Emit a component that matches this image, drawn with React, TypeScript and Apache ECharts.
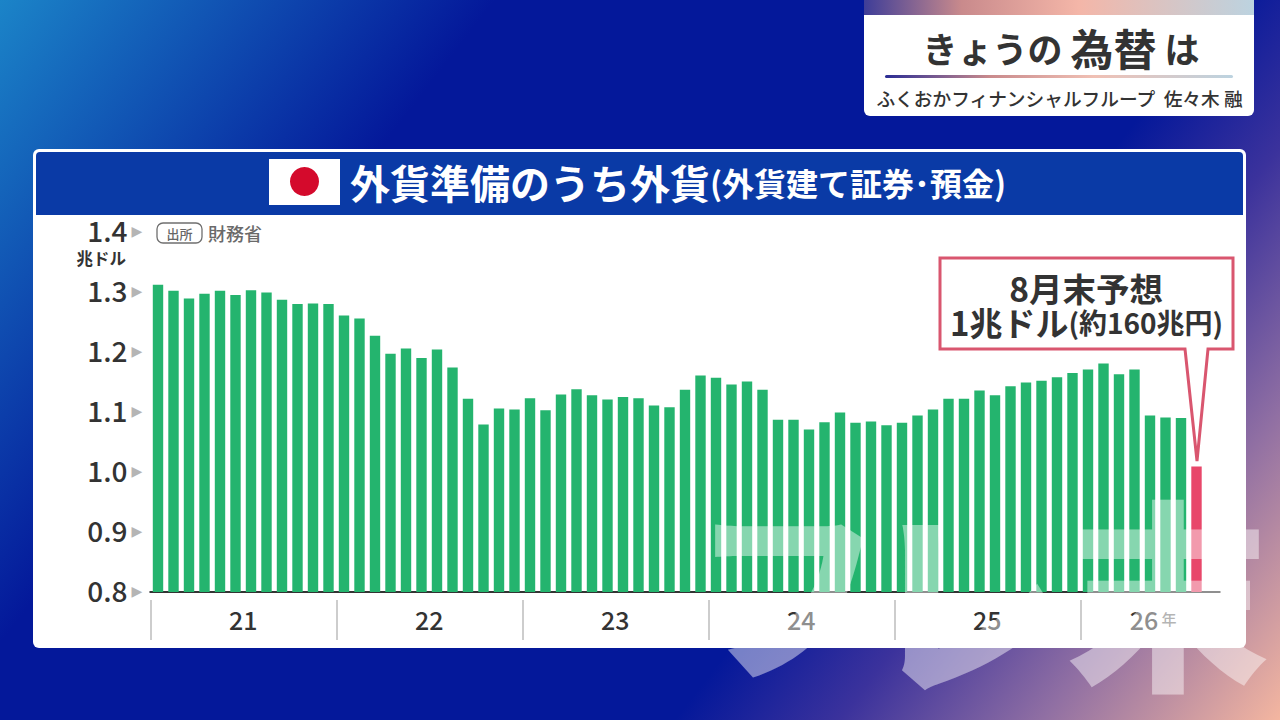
import React, { useEffect, useRef } from "react";
import * as echarts from "echarts";

const FONT = '"Noto Sans CJK JP", "Noto Sans", sans-serif';

const actualValues = [
  1.312, 1.302, 1.289, 1.297, 1.302, 1.295, 1.303, 1.299, 1.287, 1.28, 1.281, 1.28,
  1.261, 1.256, 1.227, 1.197, 1.206, 1.19, 1.204, 1.174, 1.122, 1.079, 1.106, 1.104,
  1.123, 1.103, 1.129, 1.138, 1.128, 1.121, 1.125, 1.123, 1.111, 1.108, 1.137, 1.161,
  1.157, 1.146, 1.151, 1.137, 1.087, 1.087, 1.071, 1.083, 1.099, 1.082, 1.084, 1.078,
  1.082, 1.094, 1.104, 1.122, 1.122, 1.136, 1.128, 1.143, 1.149, 1.152, 1.158, 1.165,
  1.171, 1.181, 1.163, 1.171, 1.094, 1.091, 1.09,
];
const forecastValue = 1.009;
const yearTickPositions = [0, 12, 24, 36, 48, 60];
const yearLabelPositions = [6, 18, 30, 42, 54, 64.7];
const yearLabels = ["21", "22", "23", "24", "25", "26"];
const monthCategories = [...actualValues, forecastValue, null].map((_, i) => `m${i}`);

const GREEN = "#24b46e";
const RED = "#e8476a";
const PINK_LINE = "#d9566f";
const TEXT = "#333333";
const WATERMARK = "rgba(255,255,255,0.45)";

function t(text: string, x: number, y: number, fontSize: number, fill: string, extra: any = {}) {
  const { align = "left", fontWeight = "bold", z = 5, rich } = extra;
  return {
    type: "text",
    x,
    y,
    z,
    style: { text, fill, fontSize, fontFamily: FONT, fontWeight, align, verticalAlign: "middle", rich },
  };
}

export default function App() {
  const ref = useRef<HTMLDivElement>(null);
  useEffect(() => {
    document.body.style.margin = "0";
    const chart = echarts.init(ref.current!, undefined, { renderer: "svg" });
    const barData = [
      ...actualValues.map((v) => ({ value: v, itemStyle: { color: GREEN } })),
      { value: forecastValue, itemStyle: { color: RED } },
      null,
    ];
    chart.setOption({
      animation: false,
      grid: { left: 150.25, top: 232, width: 1069.5, height: 360 },
      xAxis: [
        {
          type: "category",
          data: monthCategories,
          axisLine: { show: true, onZero: false, lineStyle: { color: "#333333", width: 2 } },
          axisTick: { show: false },
          axisLabel: { show: false },
          splitLine: { show: false },
        },
        {
          type: "value",
          position: "bottom",
          offset: 8,
          min: 0,
          max: monthCategories.length,
          axisLine: { show: false },
          splitLine: { show: false },
          axisTick: {
            show: true,
            length: 40,
            customValues: yearTickPositions,
            lineStyle: { color: "#bdbdbd", width: 1.5 },
          },
          axisLabel: {
            show: true,
            customValues: yearLabelPositions,
            margin: 6,
            formatter: (v: number) => {
              const i = yearLabelPositions.indexOf(v);
              return i === yearLabels.length - 1 ? `{y|${yearLabels[i]}}{u| 年}` : `{y|${yearLabels[i]}}`;
            },
            rich: {
              y: { fontFamily: FONT, fontSize: 25, fontWeight: 500, color: TEXT },
              u: { fontFamily: FONT, fontSize: 15, fontWeight: 500, color: "#777777" },
            },
          },
        },
      ],
      yAxis: {
        type: "value",
        min: 0.8,
        max: 1.4,
        interval: 0.1,
        axisLine: { show: false },
        axisTick: { show: false },
        splitLine: { show: false },
        axisLabel: {
          margin: 8,
          formatter: (v: number) => `{v|${v.toFixed(1)}}{a|▶}`,
          rich: {
            v: { fontFamily: FONT, fontSize: 28, fontWeight: 500, color: TEXT, padding: [0, 4, 4, 0] },
            a: { fontFamily: '"DejaVu Sans"', fontSize: 14, color: "#b5b5b5", padding: [0, 0, 2, 0] },
          },
        },
      },
      series: [
        {
          type: "bar",
          xAxisIndex: 0,
          yAxisIndex: 0,
          data: barData,
          barWidth: 10.4,
          z: 2,
        },
      ],
      graphic: [
        {
          type: "rect",
          z: -20,
          shape: { x: 0, y: 0, width: 1280, height: 720 },
          style: {
            fill: {
              type: "linear",
              global: true,
              x: 0,
              y: 0,
              x2: 1152,
              y2: 886,
              colorStops: [
                { offset: 0, color: "#1b84c8" },
                { offset: 0.27, color: "#04189a" },
                { offset: 0.67, color: "#04189a" },
                { offset: 0.76, color: "#3b329c" },
                { offset: 0.87, color: "#906fa3" },
                { offset: 1, color: "#f4b6a0" },
              ],
            },
          },
        },
        // panel
        {
          type: "rect",
          z: -10,
          shape: { x: 33, y: 149, width: 1213, height: 499, r: 6 },
          style: { fill: "#ffffff" },
        },
        {
          type: "rect",
          z: -9,
          shape: { x: 36, y: 152, width: 1207, height: 63, r: [4, 4, 0, 0] },
          style: { fill: "#0a3aa6" },
        },
        { type: "rect", z: 5, shape: { x: 269, y: 159, width: 71, height: 46 }, style: { fill: "#ffffff" } },
        { type: "circle", z: 6, shape: { cx: 304.5, cy: 181.5, r: 14.5 }, style: { fill: "#d40a2c" } },
        t("{a|外貨準備のうち外貨}{b|(外貨建て証券･預金)}", 350, 182, 36, "#ffffff", {
          rich: {
            a: { fontFamily: FONT, fontSize: 40, fontWeight: "bold", fill: "#ffffff", color: "#ffffff" },
            b: { fontFamily: FONT, fontSize: 32, fontWeight: "bold", fill: "#ffffff", color: "#ffffff" },
          },
        }),
        // unit + source
        t("兆ドル", 126, 258, 16.5, TEXT, { align: "right" }),
        {
          type: "rect",
          z: 5,
          shape: { x: 157, y: 223, width: 45, height: 20, r: 6 },
          style: { fill: "#ffffff", stroke: "#6f6f6f", lineWidth: 1.3 },
        },
        t("出所", 179.5, 233, 13, "#666666", { align: "center", fontWeight: 500 }),
        t("財務省", 208, 233, 18, "#6a6a6a", { fontWeight: 500 }),
        // callout
        {
          type: "polygon",
          z: 8,
          shape: {
            points: [
              [940, 258],
              [1233, 258],
              [1233, 349],
              [1208, 349],
              [1197, 461],
              [1185, 349],
              [940, 349],
            ],
          },
          style: { fill: "#ffffff", stroke: PINK_LINE, lineWidth: 3 },
        },
        t("8月末予想", 1086, 287, 33.5, TEXT, { align: "center", z: 9 }),
        t("{a|1兆ドル}{b|(約160兆円)}", 1086.5, 322, 32, TEXT, {
          align: "center",
          z: 9,
          rich: {
            a: { fontFamily: FONT, fontSize: 33, fontWeight: "bold", color: TEXT, fill: TEXT },
            b: { fontFamily: FONT, fontSize: 28, fontWeight: "bold", color: TEXT, fill: TEXT },
          },
        }),
        // top-right card
        {
          type: "rect",
          z: 2,
          shape: { x: 864, y: -8, width: 390, height: 124, r: 6 },
          style: { fill: "#ffffff" },
        },
        {
          type: "rect",
          z: 3,
          shape: { x: 864, y: 0, width: 390, height: 15 },
          style: {
            fill: {
              type: "linear",
              x: 0,
              y: 0,
              x2: 1,
              y2: 0,
              colorStops: [
                { offset: 0, color: "#3e3d98" },
                { offset: 0.25, color: "#c98a8c" },
                { offset: 0.55, color: "#f4b6a8" },
                { offset: 1, color: "#bcd3e0" },
              ],
            },
          },
        },
        t("{k|きょうの }{h|為替}{k| は}", 1061, 47, 34, TEXT, {
          align: "center",
          z: 4,
          rich: {
            k: { fontFamily: FONT, fontSize: 35, fontWeight: "bold", color: TEXT, fill: TEXT },
            h: { fontFamily: FONT, fontSize: 43, fontWeight: "bold", color: TEXT, fill: TEXT },
          },
        }),
        {
          type: "rect",
          z: 4,
          shape: { x: 885, y: 75, width: 348, height: 3, r: 1.5 },
          style: {
            fill: {
              type: "linear",
              x: 0,
              y: 0,
              x2: 1,
              y2: 0,
              colorStops: [
                { offset: 0, color: "#2a2c94" },
                { offset: 0.3, color: "#c98a8c" },
                { offset: 0.6, color: "#f0c0b4" },
                { offset: 1, color: "#bcd3e0" },
              ],
            },
          },
        },
        t("ふくおかフィナンシャルフループ  佐々木 融", 1059.5, 97, 18.7, TEXT, {
          align: "center",
          z: 4,
          fontWeight: 500,
        }),
        // large translucent caption running over the chart
        t("フ", 692, 583, 190, WATERMARK, { z: 50, fontWeight: 900 }),
        t("レ", 866, 592, 200, WATERMARK, { z: 50, fontWeight: 900 }),
        t("末", 1066, 586, 204, WATERMARK, { z: 50, fontWeight: 900 }),
      ],
    });
    return () => chart.dispose();
  }, []);
  return <div ref={ref} style={{ width: 1280, height: 720 }} />;
}
